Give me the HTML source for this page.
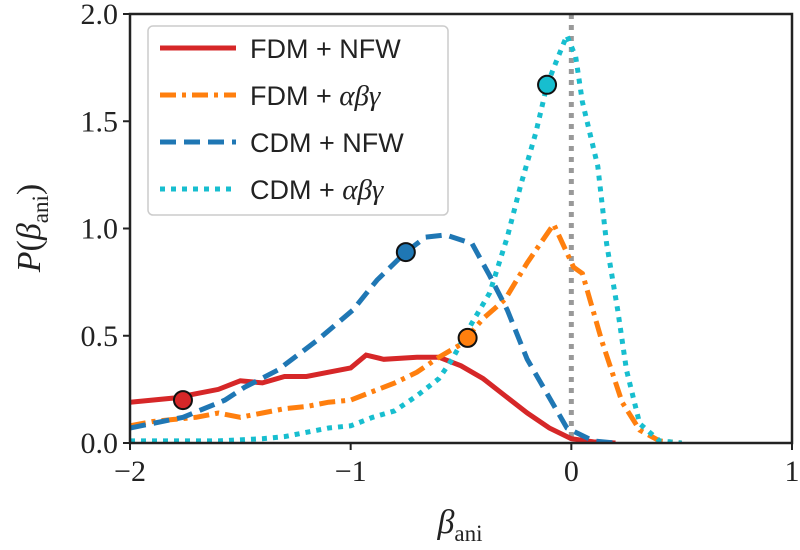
<!DOCTYPE html>
<html><head><meta charset="utf-8"><style>
body{margin:0;background:#fff}
svg text{font-family:"Liberation Serif",serif}
svg text.sans{font-family:"Liberation Sans",sans-serif}
</style></head><body>
<svg id="c" width="800" height="545" viewBox="0 0 800 545" xmlns="http://www.w3.org/2000/svg">
<g id="marks"></g>
<g id="axes"></g>
</svg>
<script>
const xTicks=[-2,-1,0,1];
const xTickLabels=["−2","−1","0","1"];
const yTicks=[0,0.5,1,1.5,2];
const yTickLabels=["0.0","0.5","1.0","1.5","2.0"];
const seriesNames=["FDM + NFW","FDM + ","CDM + NFW","CDM + "];
const seriesItalic=["","αβγ","","αβγ"];
const fdmNfwX=[-2,-1.9,-1.8,-1.7,-1.6,-1.5,-1.4,-1.3,-1.2,-1.1,-1.0,-0.93,-0.85,-0.7,-0.6,-0.5,-0.4,-0.3,-0.2,-0.1,0,0.1,0.2];
const fdmNfwY=[0.19,0.2,0.21,0.23,0.25,0.29,0.28,0.31,0.31,0.33,0.35,0.41,0.39,0.40,0.40,0.36,0.30,0.22,0.14,0.07,0.02,0.005,0];
const fdmAbgX=[-2,-1.9,-1.8,-1.7,-1.6,-1.5,-1.4,-1.3,-1.2,-1.1,-1.0,-0.9,-0.8,-0.7,-0.6,-0.5,-0.4,-0.3,-0.2,-0.08,0.01,0.05,0.14,0.23,0.31,0.4,0.5];
const fdmAbgY=[0.08,0.1,0.11,0.12,0.14,0.12,0.14,0.16,0.17,0.19,0.20,0.24,0.28,0.33,0.40,0.46,0.58,0.67,0.84,1.02,0.82,0.79,0.47,0.19,0.06,0.01,0];
const cdmNfwX=[-2,-1.76,-1.57,-1.48,-1.33,-1.15,-0.99,-0.88,-0.75,-0.66,-0.57,-0.45,-0.37,-0.29,-0.2,-0.11,-0.02,0.1,0.2];
const cdmNfwY=[0.07,0.12,0.2,0.26,0.34,0.48,0.62,0.76,0.89,0.96,0.97,0.93,0.78,0.62,0.39,0.23,0.07,0.01,0];
const cdmAbgX=[-2,-1.8,-1.6,-1.4,-1.3,-1.2,-1.1,-1.0,-0.9,-0.8,-0.7,-0.6,-0.54,-0.45,-0.37,-0.29,-0.23,-0.16,-0.11,-0.06,-0.02,0.02,0.05,0.12,0.16,0.21,0.25,0.31,0.4,0.5];
const cdmAbgY=[0.01,0.01,0.01,0.02,0.03,0.05,0.07,0.08,0.12,0.15,0.22,0.30,0.39,0.56,0.70,0.96,1.2,1.45,1.67,1.80,1.90,1.80,1.59,1.29,0.93,0.62,0.34,0.09,0.01,0];
const markerX=[-1.76,-0.47,-0.75,-0.11];
const markerY=[0.2,0.49,0.89,1.67];

const L=130,R=792,T=14,B=443;
const sx=v=>L+(v+2)/3*(R-L);
const sy=v=>B-v/2*(B-T);
const NS="http://www.w3.org/2000/svg";
const mk=(t,a,p)=>{const e=document.createElementNS(NS,t);for(const k in a)e.setAttribute(k,a[k]);p.appendChild(e);return e;};
const marks=document.getElementById('marks'),axes=document.getElementById('axes');
const colors=["#d62728","#ff7f0e","#1f77b4","#17becf"];
const dashes=["none","16,6,4,6","16,8","5,6"];
const xs=[fdmNfwX,fdmAbgX,cdmNfwX,cdmAbgX],ys=[fdmNfwY,fdmAbgY,cdmNfwY,cdmAbgY];
const clip=mk('clipPath',{id:'pc'},marks);mk('rect',{x:L,y:T,width:R-L,height:B-T},clip);
const vl=mk('line',{x1:sx(0),x2:sx(0),y1:T,y2:B,stroke:'#999',"stroke-width":5,"stroke-dasharray":"5,6"},marks);


const names=["fdm-nfw-line","fdm-abg-line","cdm-nfw-line","cdm-abg-line"];
for(let s=0;s<4;s++){
 const d=xs[s].map((x,i)=>(i?'L':'M')+sx(x).toFixed(1)+','+sy(ys[s][i]).toFixed(1)).join(' ');
 const p=mk('path',{d,fill:'none',stroke:colors[s],"stroke-width":5,"stroke-dasharray":dashes[s],"clip-path":"url(#pc)"},marks);
 
 
}
const mnames=["fdm-nfw-marker","fdm-abg-marker","cdm-nfw-marker","cdm-abg-marker"];
for(let s=0;s<4;s++){
 const c=mk('circle',{cx:sx(markerX[s]),cy:sy(markerY[s]),r:9,fill:colors[s],stroke:'#111',"stroke-width":2},marks);
 
 
}
const fr=mk('rect',{x:L,y:T,width:R-L,height:B-T,fill:'none',stroke:'#222',"stroke-width":2.5},axes);


xTicks.forEach((v,i)=>{
 mk('line',{x1:sx(v),x2:sx(v),y1:B,y2:B+7,stroke:'#222',"stroke-width":2},axes);
 const t=mk('text',{x:sx(v),y:B+38,"text-anchor":"middle","font-size":30,fill:'#222'},axes);
 t.textContent=xTickLabels[i];
 
 
});
yTicks.forEach((v,i)=>{
 mk('line',{x1:L-7,x2:L,y1:sy(v),y2:sy(v),stroke:'#222',"stroke-width":2},axes);
 const t=mk('text',{x:L-12,y:sy(v)+10,"text-anchor":"end","font-size":30,fill:'#222'},axes);
 t.textContent=yTickLabels[i];
 
 
});
const xt=mk('text',{x:460,y:533,"text-anchor":"middle","font-size":34,"font-style":"italic",fill:'#222'},axes);
xt.innerHTML='β<tspan font-style="normal" font-size="23" dy="8">ani</tspan>';


const yt=mk('text',{transform:'translate(40,228) rotate(-90)',"text-anchor":"middle","font-size":34,fill:'#222'},axes);
yt.innerHTML='<tspan font-style="italic">P</tspan>(<tspan font-style="italic">β</tspan><tspan font-size="23" dy="8">ani</tspan><tspan dy="-8">)</tspan>';


const lg=mk('g',{},axes);


mk('rect',{x:148,y:26,width:300,height:189,rx:5,fill:'#fff',stroke:'#ccc',"stroke-width":1.5},lg);
for(let s=0;s<4;s++){
 const y=48+s*47;
 mk('line',{x1:160,x2:236,y1:y,y2:y,stroke:colors[s],"stroke-width":5,"stroke-dasharray":dashes[s]},lg);
 const t=mk('text',{x:250,y:y+10,"font-size":27,fill:'#222',"class":"sans"},lg);
 t.textContent=seriesNames[s];
 if(seriesItalic[s]){const ts=mk('tspan',{"font-style":"italic","font-family":"Liberation Serif, serif","font-size":29},t);ts.textContent=seriesItalic[s];}
 
 
}
</script>
</body></html>
